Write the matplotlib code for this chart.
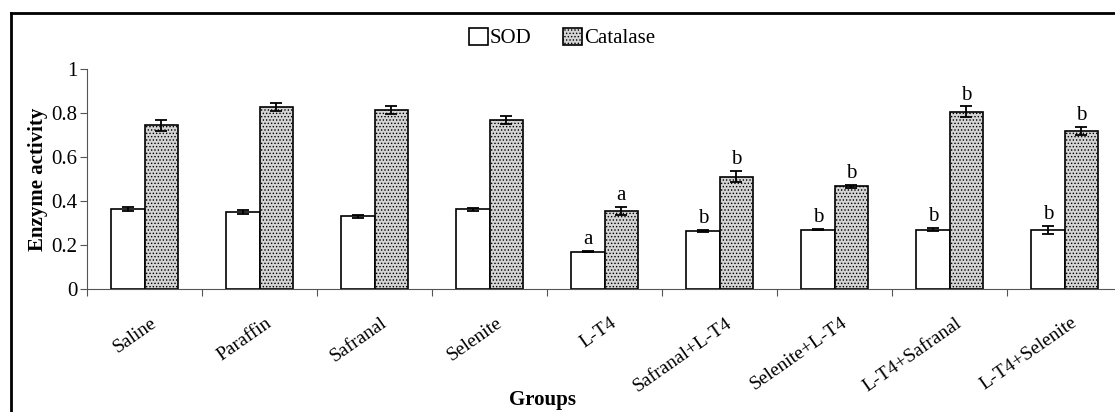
import matplotlib
matplotlib.use("Agg")
import matplotlib.pyplot as plt
from matplotlib.patches import Patch
from matplotlib.lines import Line2D
import numpy as np

# Dados
groups = ["Saline", "Paraffin", "Safranal", "Selenite", "L-T4",
          "Safranal+L-T4", "Selenite+L-T4", "L-T4+Safranal", "L-T4+Selenite"]
sod = [0.364, 0.351, 0.333, 0.364, 0.171, 0.265, 0.271, 0.271, 0.271]
sod_err = [0.010, 0.008, 0.007, 0.007, 0.003, 0.005, 0.003, 0.007, 0.018]
catalase = [0.745, 0.827, 0.815, 0.771, 0.357, 0.512, 0.468, 0.807, 0.721]
catalase_err = [0.024, 0.018, 0.018, 0.018, 0.018, 0.026, 0.006, 0.025, 0.018]
sod_letters = ["", "", "", "", "a", "b", "b", "b", "b"]
catalase_letters = ["", "", "", "", "a", "b", "b", "b", "b"]

plt.rcParams['font.family'] = ['Liberation Serif', 'DejaVu Serif']
plt.rcParams['hatch.linewidth'] = 0.6

fig = plt.figure(figsize=(11.15, 4.12), dpi=100)
ax = fig.add_axes([87 / 1115, (412 - 289.3) / 412, 1 - 87 / 1115, 220 / 412])

x = np.arange(len(groups)) + 0.5
w = 0.29

ax.bar(x - w / 2, sod, width=w, color="white", edgecolor="black", linewidth=1.2, zorder=2)
ax.bar(x + w / 2, catalase, width=w, color="#d4d4d4", edgecolor="black", linewidth=1.2,
       hatch=".....", zorder=2)
ax.errorbar(x - w / 2, sod, yerr=sod_err, fmt="none", ecolor="black", capsize=4,
            elinewidth=1.3, capthick=1.3, zorder=3)
ax.errorbar(x + w / 2, catalase, yerr=catalase_err, fmt="none", ecolor="black", capsize=4,
            elinewidth=1.3, capthick=1.3, zorder=3)

# Letras de significancia
for i in range(len(groups)):
    if sod_letters[i]:
        ax.text(x[i] - w / 2, sod[i] + sod_err[i] + 0.008, sod_letters[i],
                ha="center", va="bottom", fontsize=15)
    if catalase_letters[i]:
        ax.text(x[i] + w / 2, catalase[i] + catalase_err[i] + 0.008, catalase_letters[i],
                ha="center", va="bottom", fontsize=15)

ax.set_xlim(0, 1028 / 115)
ax.set_ylim(0, 1)
ax.set_yticks([0, 0.2, 0.4, 0.6, 0.8, 1])
ax.set_yticklabels(["0", "0.2", "0.4", "0.6", "0.8", "1"])
ax.set_xticks(np.arange(0, 9))
ax.set_xticklabels([])
ax.set_xticks(x + 0.05, minor=True)
ax.set_xticklabels(groups, minor=True, rotation=35, ha="right", rotation_mode="anchor",
                   fontsize=14)
ax.tick_params(axis="x", which="minor", length=0, pad=18)
ax.tick_params(axis="x", which="major", length=5, color="#555555")
ax.tick_params(axis="y", length=5, color="#555555", labelsize=15, pad=2)

for s in ["top", "right"]:
    ax.spines[s].set_visible(False)
ax.spines["left"].set_color("#555555")
ax.spines["bottom"].set_color("#555555")

ax.set_ylabel("Enzyme activity", fontsize=15, fontweight="bold", labelpad=2)
fig.text(542 / 1115, 1 - 400 / 412, "Groups", ha="center", va="center",
         fontsize=15, fontweight="bold")

handles = [Patch(facecolor="white", edgecolor="black", linewidth=1.2, label="SOD"),
           Patch(facecolor="#d4d4d4", edgecolor="black", linewidth=1.2, hatch=".....",
                 label="Catalase")]
fig.legend(handles=handles, loc="center", bbox_to_anchor=(562 / 1115, 1 - 38 / 412),
           ncol=2, frameon=False, fontsize=15, handlelength=0.9, handleheight=0.9,
           handletextpad=0.1, columnspacing=1.5)

# Moldura externa
fig.add_artist(Line2D([11 / 1115, 11 / 1115], [0, 1 - 13 / 412], transform=fig.transFigure,
                      color="black", linewidth=2))
fig.add_artist(Line2D([11 / 1115, 1], [1 - 13 / 412, 1 - 13 / 412], transform=fig.transFigure,
                      color="black", linewidth=2))

fig.savefig("out.png", dpi=100)
